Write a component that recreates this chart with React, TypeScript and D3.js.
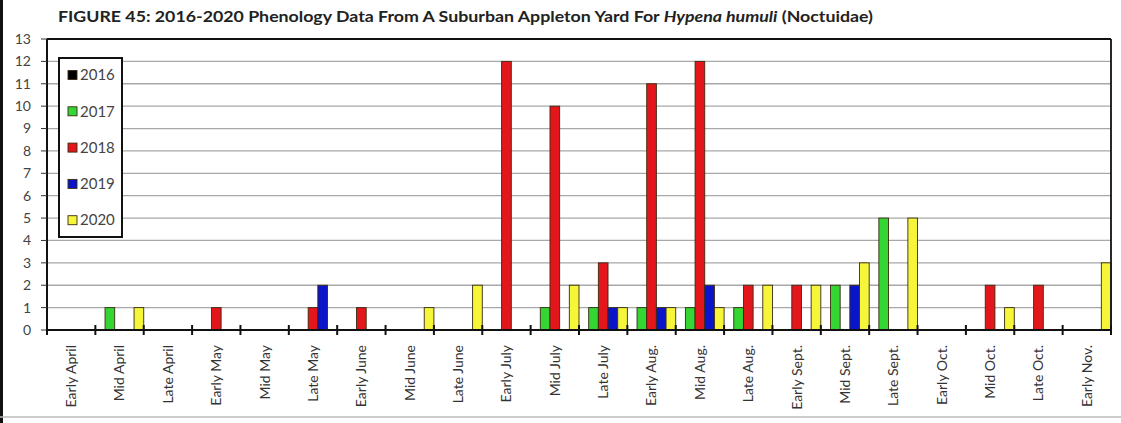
import React from "react";
import * as d3 from "d3";

const categories = [
  "Early April", "Mid April", "Late April", "Early May", "Mid May", "Late May",
  "Early June", "Mid June", "Late June", "Early July", "Mid July", "Late July",
  "Early Aug.", "Mid Aug.", "Late Aug.", "Early Sept.", "Mid Sept.", "Late Sept.",
  "Early Oct.", "Mid Oct.", "Late Oct.", "Early Nov.",
];

const seriesNames = ["2016", "2017", "2018", "2019", "2020"];
const seriesColors = ["#000000", "#33d633", "#e3161c", "#0a14c8", "#f5f53a"];

const v2016 = [0, 0, 0, 0, 0, 0, 0, 0, 0, 0, 0, 0, 0, 0, 0, 0, 0, 0, 0, 0, 0, 0];
const v2017 = [0, 1, 0, 0, 0, 0, 0, 0, 0, 0, 1, 1, 1, 1, 1, 0, 2, 5, 0, 0, 0, 0];
const v2018 = [0, 0, 0, 1, 0, 1, 1, 0, 0, 12, 10, 3, 11, 12, 2, 2, 0, 0, 0, 2, 2, 0];
const v2019 = [0, 0, 0, 0, 0, 2, 0, 0, 0, 0, 0, 1, 1, 2, 0, 0, 2, 0, 0, 0, 0, 0];
const v2020 = [0, 1, 0, 0, 0, 0, 0, 1, 2, 0, 2, 1, 1, 1, 2, 2, 3, 5, 0, 1, 0, 3];

const seriesValues = [v2016, v2017, v2018, v2019, v2020];
const yTicks = d3.range(0, 14);

const W = 1121;
const H = 423;
const left = 47;
const right = 1111;
const top = 39;
const bottom = 330;

export default function App() {
  const x = d3.scaleBand<string>().domain(categories).range([left, right]).paddingInner(0).paddingOuter(0);
  const xs = d3.scaleBand<string>().domain(seriesNames).range([0, x.bandwidth()]).padding(0);
  const y = d3.scaleLinear().domain([0, 13]).range([bottom, top]);

  const font = "Lato, 'Open Sans', sans-serif";

  return (
    <svg width={W} height={H} style={{ position: "absolute", left: 0, top: 0, background: "#fff" }}>
      <rect x={0} y={0} width={W} height={H} fill="#fff" />
      <rect x={0} y={0} width={3} height={H} fill="#111" />
      <line x1={0} x2={W} y1={417} y2={417} stroke="#bbb" strokeWidth={1.5} />

      <text x={58} y={22} fontFamily={font} fontWeight={700} fontSize={14.5} fill="#222"
        textLength={815} lengthAdjust="spacingAndGlyphs">
        FIGURE 45: 2016-2020 Phenology Data From A Suburban Appleton Yard For{" "}
        <tspan fontStyle="italic">Hypena humuli</tspan> (Noctuidae)
      </text>

      {yTicks.filter((t) => t > 0 && t < 13).map((t) => (
        <line key={"g" + t} x1={left} x2={right} y1={y(t)} y2={y(t)} stroke="#a8a8a8" strokeWidth={1.3} />
      ))}

      {seriesValues.map((vals, si) =>
        vals.map((v, ci) =>
          v > 0 ? (
            <rect
              key={`b${si}-${ci}`}
              x={(x(categories[ci]) as number) + (xs(seriesNames[si]) as number)}
              y={y(v)}
              width={xs.bandwidth()}
              height={y(0) - y(v)}
              fill={seriesColors[si]}
              stroke="#3a2a10"
              strokeWidth={0.9}
            />
          ) : null
        )
      )}

      <line x1={left} x2={right} y1={top} y2={top} stroke="#111" strokeWidth={1.8} />
      <line x1={right} x2={right} y1={top} y2={bottom} stroke="#111" strokeWidth={1.8} />
      <line x1={left} x2={left} y1={top} y2={bottom} stroke="#111" strokeWidth={2} />
      <line x1={left} x2={right} y1={bottom} y2={bottom} stroke="#111" strokeWidth={2.2} />

      {yTicks.map((t) => (
        <g key={"y" + t}>
          <line x1={left - 6} x2={left} y1={y(t)} y2={y(t)} stroke="#333" strokeWidth={1} />
          <text x={31} y={y(t)} dy="0.35em" textAnchor="end" fontFamily={font} fontSize={14} fill="#444">
            {t}
          </text>
        </g>
      ))}

      {categories.map((c, i) => (
        <line key={"xt" + i} x1={(x(c) as number)} x2={(x(c) as number)} y1={bottom - 5} y2={bottom + 5}
          stroke="#111" strokeWidth={2} />
      ))}
      <line x1={right} x2={right} y1={bottom - 5} y2={bottom + 5} stroke="#111" strokeWidth={2} />

      {categories.map((c) => {
        const cx = (x(c) as number) + x.bandwidth() / 2;
        return (
          <text key={"xl" + c} transform={`translate(${cx},${345}) rotate(-90)`} textAnchor="end"
            dy="0.35em" fontFamily={font} fontSize={14} fill="#333">
            {c}
          </text>
        );
      })}

      <rect x={59} y={58} width={63} height={179} fill="#fff" stroke="#111" strokeWidth={2} />
      {seriesNames.map((s, i) => {
        const ly = 75 + i * 36.3;
        return (
          <g key={"l" + s}>
            <rect x={68} y={ly - 4.5} width={9} height={9} fill={seriesColors[i]} stroke="#3a2a10" strokeWidth={0.9} />
            <text x={80} y={ly} dy="0.35em" fontFamily={font} fontSize={15} fill="#444">
              {s}
            </text>
          </g>
        );
      })}
    </svg>
  );
}
